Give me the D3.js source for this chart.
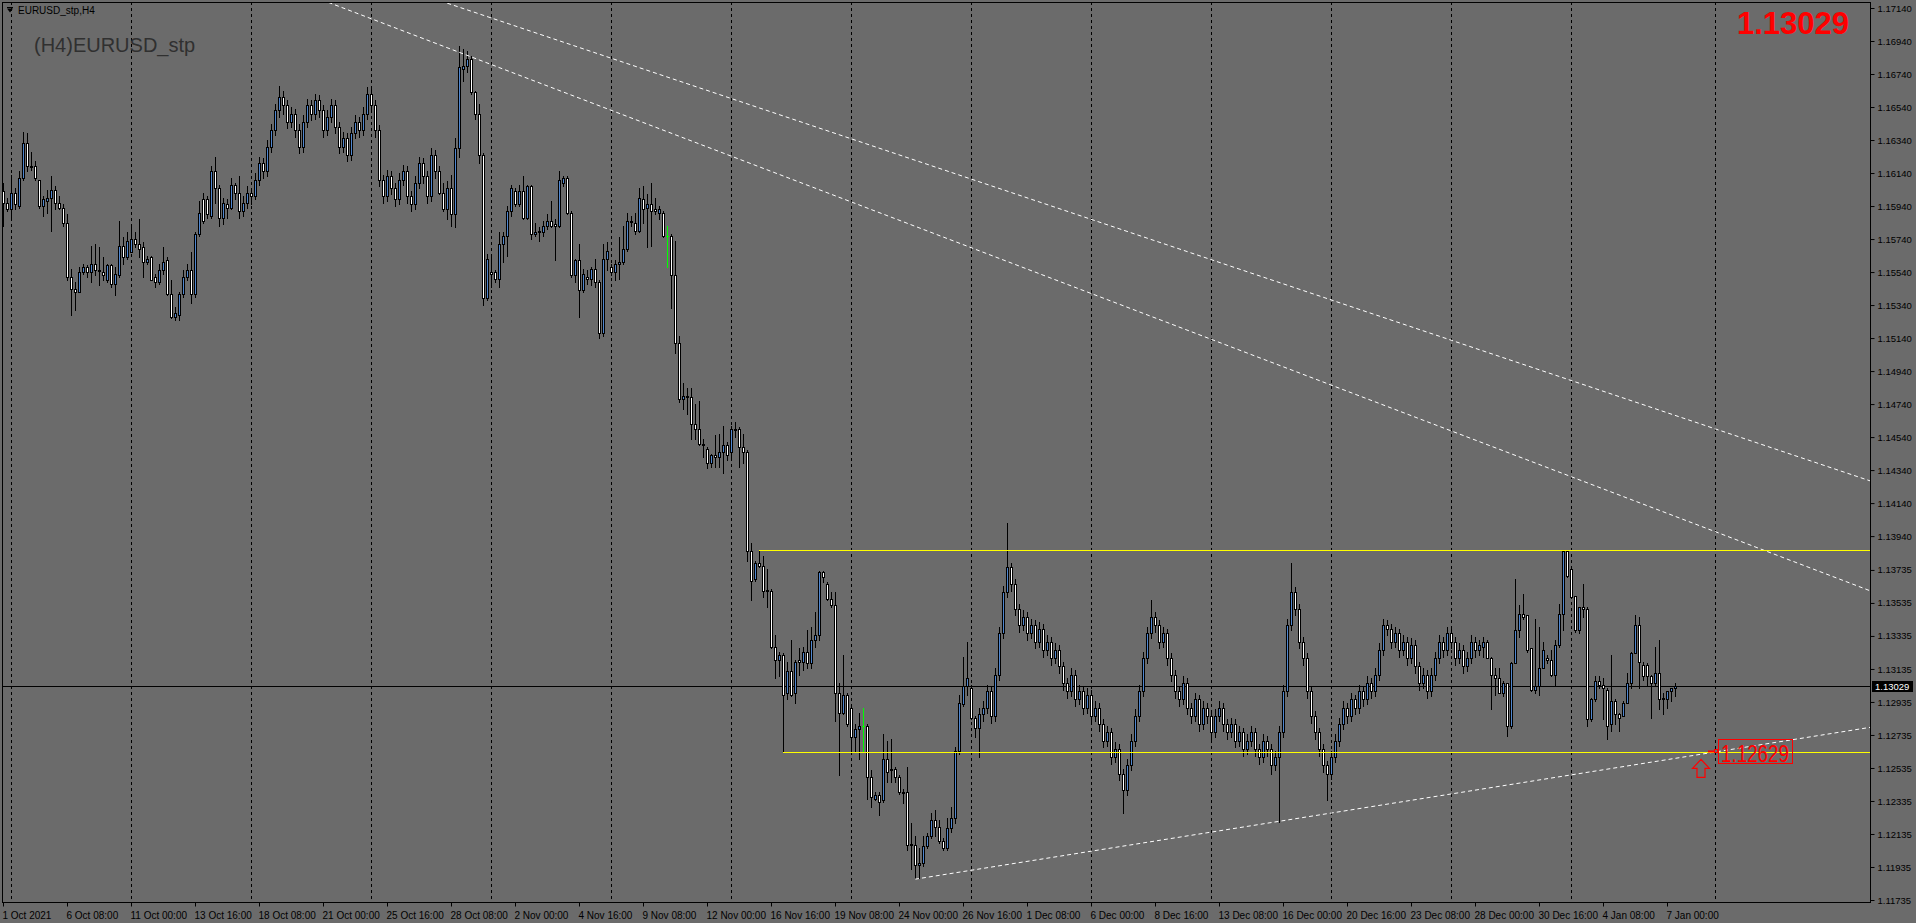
<!DOCTYPE html>
<html><head><meta charset="utf-8">
<script src="https://cdn.jsdelivr.net/npm/d3@7"></script>
<style>html,body{margin:0;padding:0;background:#6b6b6b;overflow:hidden}text{font-family:"Liberation Sans",Arial,sans-serif}</style>
</head><body><svg id="c" width="1916" height="923"></svg>
<script>
// ---------- data ----------
const windowTitle = "EURUSD_stp,H4";
const symbolTitle = "(H4)EURUSD_stp";
const lastPrice = 1.13029;
const priceTicks = [1.17140,1.16940,1.16740,1.16540,1.16340,1.16140,1.15940,1.15740,1.15540,1.15340,1.15140,1.14940,1.14740,1.14540,1.14340,1.14140,1.13940,1.13735,1.13535,1.13335,1.13135,1.12935,1.12735,1.12535,1.12335,1.12135,1.11935,1.11735];
const timeLabelBars = [0,16,32,48,64,80,96,112,128,144,160,176,192,208,224,240,256,272,288,304,320,336,352,368,384,400,416];
const timeLabelTexts = ["1 Oct 2021","6 Oct 08:00","11 Oct 00:00","13 Oct 16:00","18 Oct 08:00","21 Oct 00:00","25 Oct 16:00","28 Oct 08:00","2 Nov 00:00","4 Nov 16:00","9 Nov 08:00","12 Nov 00:00","16 Nov 16:00","19 Nov 08:00","24 Nov 00:00","26 Nov 16:00","1 Dec 08:00","6 Dec 00:00","8 Dec 16:00","13 Dec 08:00","16 Dec 00:00","20 Dec 16:00","23 Dec 08:00","28 Dec 00:00","30 Dec 16:00","4 Jan 08:00","7 Jan 00:00"];
const weekSeparatorBars = [2,32,62,92,122,152,182,212,242,272,302,332,362,392,428];
const trendLineA = [[131, 1.17007], [466.75, 1.14275]];
const trendLineB = [[109.25, 1.16916], [466.75, 1.13609]];
const trendLineC = [[228, 1.11861], [466.75, 1.12781]];
const resistanceLevel = [189, 1.13853];
const supportLevel = [195, 1.12629];
const supportLabelBar = 428.75;
const arrowBar = 424.5;

const barOpen = [
1.1603,1.1596,1.1592,1.1602,1.1594,1.1611,1.1632,1.1618,1.1618,1.1610,
1.1594,1.1597,1.1599,1.1604,1.1596,1.1593,1.1584,1.1551,1.1544,1.1542,
1.1554,1.1557,1.1554,1.1559,1.1555,1.1554,1.1549,1.1558,1.1547,1.1552,
1.1570,1.1563,1.1566,1.1574,1.1571,1.1569,1.1560,1.1563,1.1551,1.1548,
1.1555,1.1561,1.1541,1.1527,1.1528,1.1541,1.1551,1.1555,1.1541,1.1577,
1.1598,1.1598,1.1588,1.1615,1.1605,1.1587,1.1595,1.1593,1.1607,1.1602,
1.1591,1.1596,1.1602,1.1600,1.1610,1.1620,1.1615,1.1630,1.1640,1.1652,
1.1660,1.1655,1.1645,1.1650,1.1640,1.1630,1.1645,1.1655,1.1650,1.1658,
1.1652,1.1640,1.1648,1.1655,1.1642,1.1630,1.1635,1.1625,1.1638,1.1645,
1.1640,1.1650,1.1662,1.1655,1.1640,1.1610,1.1600,1.1612,1.1605,1.1598,
1.1610,1.1615,1.1600,1.1595,1.1608,1.1620,1.1612,1.1600,1.1625,1.1615,
1.1602,1.1592,1.1605,1.1589,1.1629,1.1677,1.1679,1.1683,1.1663,1.1650,
1.1625,1.1538,1.1554,1.1554,1.1550,1.1571,1.1576,1.1591,1.1603,1.1595,
1.1603,1.1587,1.1606,1.1577,1.1579,1.1578,1.1582,1.1585,1.1583,1.1582,
1.1608,1.1611,1.1590,1.1552,1.1561,1.1543,1.1551,1.1550,1.1556,1.1548,
1.1517,1.1562,1.1557,1.1554,1.1559,1.1560,1.1568,1.1585,1.1584,1.1579,
1.1598,1.1593,1.1595,1.1592,1.1590,1.1590,1.1576,1.1576,1.1552,1.1511,
1.1477,1.1479,1.1478,1.1462,1.1459,1.1450,1.1447,1.1438,1.1443,1.1442,
1.1445,1.1449,1.1445,1.1459,1.1459,1.1448,1.1445,1.1385,1.1368,1.1378,
1.1376,1.13615,1.1361,1.1327,1.1319,1.1322,1.1299,1.1312,1.1299,1.1319,
1.1318,1.1324,1.1317,1.1331,1.1334,1.1372,1.1365,1.1356,1.1352,1.1299,
1.1287,1.1298,1.1290,1.1272,1.1277,1.1279,1.1279,1.1248,1.1235,1.1237,
1.1234,1.1259,1.1252,1.1253,1.1248,1.1239,1.1239,1.12075,1.1207,1.1195,
1.1196,1.1206,1.1212,1.1222,1.1218,1.1209,1.1205,1.1217,1.1223,1.1264,
1.1292,1.1303,1.1302,1.1284,1.1278,1.1286,1.1290,1.1300,1.1285,1.1310,
1.1335,1.1360,1.1375,1.1365,1.1350,1.1340,1.1345,1.1335,1.1340,1.1330,
1.1338,1.1325,1.1330,1.1320,1.1325,1.1315,1.1305,1.1300,1.1310,1.1295,
1.1300,1.1290,1.1298,1.1285,1.1290,1.1280,1.1270,1.1275,1.1260,1.1265,
1.1250,1.1240,1.1255,1.1270,1.1285,1.1300,1.1320,1.1335,1.1345,1.1340,
1.1330,1.1335,1.1320,1.1310,1.1300,1.1295,1.1305,1.1290,1.1285,1.1295,
1.1280,1.1290,1.1285,1.1275,1.1285,1.1290,1.1280,1.1275,1.1280,1.1270,
1.1275,1.1265,1.1270,1.1275,1.1265,1.1260,1.1270,1.1265,1.1255,1.1260,
1.1275,1.1300,1.1340,1.1360,1.1350,1.1330,1.1320,1.1300,1.1285,1.1275,
1.1265,1.1255,1.1250,1.1260,1.1270,1.1280,1.1290,1.1285,1.1295,1.1290,
1.1300,1.1295,1.1305,1.1300,1.1310,1.1325,1.1340,1.1338,1.1330,1.1335,
1.1325,1.1330,1.1320,1.1328,1.1315,1.1305,1.1310,1.1300,1.1310,1.1320,
1.1330,1.1325,1.1335,1.1330,1.1320,1.1325,1.1315,1.1320,1.1330,1.1325,
1.1327,1.1330,1.1320,1.1310,1.1308,1.1299,1.1305,1.1279,1.1317,1.1337,
1.1347,1.1346,1.1326,1.1301,1.1303,1.1314,1.1320,1.1319,1.1310,1.1328,
1.1347,1.1385,1.1374,1.1358,1.1337,1.1351,1.1350,1.1283,1.1295,1.1306,
1.1304,1.1301,1.1280,1.1294,1.1286,1.1285,1.1293,1.1305,1.1323,1.1340,
1.1316,1.1316,1.1309,1.1305,1.1311,1.1296,1.1295,1.1300,1.1302];
const barHigh = [
1.1608,1.1599,1.1613,1.1605,1.1615,1.1639,1.1638,1.1627,1.1621,1.1610,
1.1600,1.1604,1.1612,1.1606,1.1600,1.1595,1.1589,1.1556,1.1548,1.1557,
1.1559,1.1558,1.1570,1.1571,1.1569,1.1563,1.1559,1.1559,1.1557,1.1585,
1.1575,1.1578,1.1583,1.1578,1.1586,1.1572,1.1564,1.1564,1.1553,1.1559,
1.1569,1.1563,1.1549,1.1533,1.1542,1.1555,1.1559,1.1566,1.1578,1.1597,
1.1602,1.1600,1.1618,1.1624,1.1607,1.1599,1.1598,1.1611,1.1608,1.1612,
1.1600,1.1606,1.1605,1.1614,1.1624,1.1623,1.1634,1.1644,1.1656,1.1667,
1.1664,1.1658,1.1654,1.1653,1.1644,1.1649,1.1659,1.1658,1.1662,1.1661,
1.1655,1.1652,1.1659,1.1658,1.1645,1.1639,1.1638,1.1642,1.1649,1.1648,
1.1654,1.1666,1.1665,1.1658,1.1643,1.1613,1.1616,1.1615,1.1608,1.1614,
1.1619,1.1618,1.1603,1.1612,1.1624,1.1623,1.1615,1.1629,1.1628,1.1618,
1.1608,1.1609,1.1613,1.1635,1.1691,1.1689,1.1688,1.1685,1.1664,1.1656,
1.1626,1.1565,1.1563,1.1555,1.1578,1.1578,1.1594,1.1607,1.1605,1.1607,
1.1612,1.1607,1.1607,1.1584,1.1581,1.1585,1.1589,1.1597,1.1586,1.1615,
1.1612,1.1612,1.1591,1.1562,1.1571,1.1556,1.1555,1.1557,1.1562,1.1549,
1.1571,1.1572,1.1559,1.1561,1.1575,1.1582,1.1590,1.1588,1.1590,1.1605,
1.1606,1.1601,1.1608,1.1599,1.1594,1.1591,1.1582,1.1577,1.1573,1.1515,
1.1487,1.1484,1.1484,1.1474,1.1476,1.1453,1.1448,1.1444,1.1455,1.1456,
1.1461,1.1451,1.1461,1.1463,1.1460,1.1456,1.1446,1.1390,1.1379,1.13853,
1.1382,1.1374,1.1362,1.1334,1.1324,1.1323,1.1318,1.1331,1.1319,1.1326,
1.1327,1.1337,1.1339,1.1348,1.1373,1.1373,1.1366,1.1360,1.1360,1.1305,
1.1322,1.1299,1.1291,1.1280,1.1287,1.1290,1.1280,1.1252,1.1239,1.1239,
1.1274,1.1270,1.1271,1.1254,1.1249,1.1241,1.1254,1.1220,1.1212,1.1205,
1.1212,1.1214,1.1226,1.1228,1.1222,1.1211,1.1223,1.1230,1.1266,1.1298,
1.1321,1.1330,1.1304,1.1285,1.1290,1.1294,1.1304,1.1303,1.1314,1.1339,
1.1364,1.1402,1.1378,1.1368,1.1353,1.1349,1.1348,1.1344,1.1343,1.1342,
1.1341,1.1334,1.1333,1.1329,1.1328,1.1318,1.1308,1.1314,1.1313,1.1304,
1.1303,1.1302,1.1301,1.1294,1.1293,1.1283,1.1279,1.1278,1.1269,1.1268,
1.1253,1.1259,1.1274,1.1289,1.1304,1.1324,1.1339,1.1355,1.1348,1.1343,
1.1339,1.1338,1.1323,1.1313,1.1303,1.1309,1.1308,1.1293,1.1299,1.1298,
1.1294,1.1293,1.1288,1.1289,1.1294,1.1293,1.1283,1.1284,1.1283,1.1279,
1.1278,1.1274,1.1279,1.1278,1.1268,1.1274,1.1273,1.1268,1.1264,1.1279,
1.1304,1.1344,1.1378,1.1363,1.1353,1.1333,1.1323,1.1303,1.1288,1.1278,
1.1268,1.1258,1.1264,1.1274,1.1284,1.1294,1.1293,1.1299,1.1298,1.1304,
1.1303,1.1309,1.1308,1.1314,1.1329,1.1344,1.1343,1.1341,1.1339,1.1338,
1.1334,1.1333,1.1332,1.1331,1.1318,1.1314,1.1313,1.1314,1.1324,1.1334,
1.1333,1.1339,1.1338,1.1333,1.1329,1.1328,1.1324,1.1334,1.1333,1.1331,
1.1333,1.1331,1.1321,1.1314,1.1314,1.1306,1.1305,1.1318,1.1368,1.1352,
1.1359,1.1346,1.1326,1.1344,1.1339,1.1330,1.1322,1.1325,1.1331,1.1353,
1.1385,1.1385,1.1375,1.1358,1.1351,1.1365,1.1351,1.1296,1.1309,1.1309,
1.1308,1.1302,1.1322,1.1295,1.1287,1.1294,1.1311,1.1324,1.1346,1.1345,
1.1318,1.1317,1.1310,1.1327,1.1331,1.1299,1.1300,1.1302,1.1305];
const barLow = [
1.1582,1.1591,1.1587,1.1592,1.1593,1.1610,1.1615,1.1616,1.1610,1.1593,
1.1588,1.1590,1.1579,1.1592,1.1592,1.1582,1.1549,1.1528,1.1531,1.1542,
1.1553,1.1551,1.1548,1.1552,1.1546,1.1549,1.1548,1.1545,1.1540,1.1551,
1.1559,1.1562,1.1566,1.1569,1.1563,1.1551,1.1559,1.1549,1.1545,1.1547,
1.1553,1.1540,1.1526,1.1525,1.1525,1.1539,1.1549,1.1535,1.1539,1.1576,
1.1584,1.1587,1.1587,1.1596,1.1582,1.1583,1.1587,1.1592,1.1598,1.1587,
1.1588,1.1593,1.1595,1.1598,1.1607,1.1611,1.1612,1.1627,1.1637,1.1648,
1.1650,1.1641,1.1642,1.1636,1.1626,1.1627,1.1642,1.1646,1.1647,1.1648,
1.1636,1.1637,1.1645,1.1638,1.1626,1.1627,1.1621,1.1622,1.1635,1.1636,
1.1637,1.1647,1.1651,1.1636,1.1606,1.1596,1.1597,1.1601,1.1594,1.1595,
1.1607,1.1596,1.1591,1.1592,1.1605,1.1608,1.1596,1.1597,1.1611,1.1601,
1.1591,1.1586,1.1582,1.1581,1.1624,1.1670,1.1675,1.1662,1.1647,1.1620,
1.1534,1.1537,1.1545,1.1548,1.1545,1.1560,1.1564,1.1588,1.1594,1.1594,
1.1586,1.1586,1.1574,1.1576,1.1573,1.1576,1.1580,1.1581,1.1561,1.1581,
1.1606,1.1589,1.1551,1.1548,1.1527,1.1542,1.1547,1.1546,1.1545,1.1514,
1.1515,1.1555,1.1552,1.1549,1.1550,1.1559,1.1567,1.1582,1.1577,1.1578,
1.1584,1.1569,1.1570,1.1589,1.1586,1.1575,1.1557,1.1532,1.1505,1.1475,
1.1471,1.1468,1.1453,1.1453,1.1449,1.1442,1.1435,1.1436,1.1436,1.1436,
1.1432,1.1440,1.1440,1.1454,1.1436,1.1438,1.1379,1.1355,1.1367,1.1375,
1.1357,1.1351,1.1326,1.1308,1.1309,1.12629,1.1295,1.1297,1.1293,1.1310,
1.1313,1.1314,1.1314,1.1327,1.1331,1.1366,1.1355,1.1351,1.1282,1.1249,
1.1286,1.1279,1.1264,1.1263,1.1259,1.1264,1.1235,1.1230,1.1234,1.1225,
1.1233,1.1245,1.1245,1.1245,1.1238,1.1232,1.1204,1.1192,1.11861,1.1187,
1.1194,1.1205,1.1211,1.1212,1.1208,1.1204,1.1204,1.1215,1.1220,1.1262,
1.1291,1.1298,1.1283,1.1272,1.1260,1.1282,1.1287,1.1281,1.1282,1.1307,
1.1332,1.1357,1.1361,1.1346,1.1336,1.1337,1.1331,1.1332,1.1326,1.1327,
1.1321,1.1322,1.1316,1.1317,1.1311,1.1301,1.1296,1.1297,1.1291,1.1292,
1.1286,1.1287,1.1281,1.1282,1.1276,1.1266,1.1267,1.1256,1.1257,1.1246,
1.1226,1.1237,1.1252,1.1267,1.1282,1.1297,1.1317,1.1332,1.1336,1.1326,
1.1327,1.1316,1.1306,1.1296,1.1291,1.1292,1.1286,1.1281,1.1282,1.1276,
1.1277,1.1281,1.1271,1.1272,1.1282,1.1276,1.1271,1.1272,1.1266,1.1267,
1.1261,1.1262,1.1267,1.1261,1.1256,1.1257,1.1261,1.1250,1.1252,1.1221,
1.1272,1.1297,1.1337,1.1346,1.1326,1.1316,1.1296,1.1281,1.1271,1.1261,
1.1251,1.1234,1.1247,1.1257,1.1267,1.1277,1.1281,1.1282,1.1286,1.1287,
1.1291,1.1292,1.1296,1.1297,1.1307,1.1322,1.1334,1.1326,1.1327,1.1321,
1.1322,1.1316,1.1317,1.1311,1.1301,1.1302,1.1296,1.1297,1.1307,1.1317,
1.1321,1.1322,1.1326,1.1316,1.1317,1.1311,1.1312,1.1317,1.1321,1.1322,
1.1321,1.1320,1.1289,1.1298,1.1299,1.1297,1.1273,1.1278,1.1317,1.1333,
1.1344,1.1324,1.1300,1.1299,1.1298,1.1314,1.1317,1.1309,1.1303,1.1327,
1.1337,1.1369,1.1357,1.1336,1.1335,1.1345,1.1279,1.1282,1.1294,1.1302,
1.1283,1.1271,1.1276,1.1280,1.1276,1.1285,1.1293,1.1302,1.1323,1.1302,
1.1307,1.1304,1.1284,1.1304,1.1289,1.1286,1.1290,1.1294,1.1297];
const barClose = [
1.1596,1.1592,1.1602,1.1595,1.1611,1.1632,1.1618,1.16175,1.1611,1.1594,
1.1598,1.1599,1.1604,1.1596,1.1593,1.1584,1.1551,1.1544,1.1542,1.1554,
1.1557,1.1554,1.1559,1.1555,1.15545,1.1552,1.1558,1.1547,1.1553,1.1570,
1.1563,1.1573,1.1574,1.1571,1.1568,1.1560,1.1562,1.1549,1.1548,1.1555,
1.1560,1.1541,1.1527,1.1529,1.1541,1.1551,1.1555,1.1541,1.1577,1.1590,
1.1585,1.1589,1.1615,1.1605,1.1587,1.1596,1.1593,1.1607,1.1602,1.1591,
1.1596,1.1602,1.1600,1.1610,1.1620,1.1615,1.1630,1.1640,1.1652,1.1660,
1.1655,1.1645,1.1650,1.1640,1.1630,1.1645,1.1655,1.1650,1.1658,1.1652,
1.1640,1.1648,1.1655,1.1642,1.1630,1.1635,1.1625,1.1638,1.1645,1.1640,
1.1650,1.1662,1.1655,1.1640,1.1610,1.1600,1.1612,1.1605,1.1598,1.1610,
1.1615,1.1600,1.1595,1.1608,1.1620,1.1612,1.1600,1.1625,1.1615,1.1602,
1.1592,1.1605,1.1589,1.1629,1.1678,1.1679,1.1683,1.1663,1.1650,1.1625,
1.1538,1.1562,1.1553,1.1550,1.1571,1.1576,1.1591,1.1605,1.1595,1.1603,
1.1587,1.1606,1.1577,1.1578,1.1578,1.1582,1.1585,1.1582,1.1582,1.1610,
1.1611,1.1590,1.1552,1.1561,1.1543,1.1553,1.1550,1.1556,1.1548,1.1517,
1.1562,1.1567,1.1554,1.1559,1.1560,1.1568,1.1585,1.15845,1.1579,1.1599,
1.1592,1.1595,1.1591,1.1591,1.1592,1.1576,1.1576,1.1552,1.1511,1.1477,
1.1479,1.1478,1.1462,1.1459,1.1450,1.1449,1.1438,1.1443,1.1442,1.1445,
1.1449,1.1443,1.1459,1.14585,1.1448,1.1445,1.1385,1.1367,1.1378,1.1376,
1.1361,1.1361,1.1327,1.1319,1.1322,1.1298,1.1312,1.1298,1.1318,1.1318,
1.1324,1.1317,1.1331,1.1334,1.1372,1.1369,1.1356,1.1352,1.1299,1.1287,
1.1298,1.1280,1.1272,1.1277,1.1279,1.1279,1.1248,1.1236,1.1237,1.1233,
1.1259,1.1251,1.1253,1.1248,1.1239,1.12385,1.1207,1.1207,1.1195,1.1196,
1.1206,1.1212,1.1222,1.1218,1.1209,1.1205,1.1217,1.1223,1.1264,1.1293,
1.1303,1.1308,1.1284,1.1278,1.1286,1.1290,1.1300,1.1285,1.1310,1.1335,
1.1360,1.1375,1.1365,1.1350,1.1340,1.1345,1.1335,1.1340,1.1330,1.1338,
1.1325,1.1330,1.1320,1.1325,1.1315,1.1305,1.1300,1.1310,1.1295,1.1300,
1.1290,1.1298,1.1285,1.1290,1.1280,1.1270,1.1275,1.1260,1.1265,1.1250,
1.1240,1.1255,1.1270,1.1285,1.1300,1.1320,1.1335,1.1345,1.1340,1.1330,
1.1335,1.1320,1.1310,1.1300,1.1295,1.1305,1.1290,1.1285,1.1295,1.1280,
1.1290,1.1285,1.1275,1.1285,1.1290,1.1280,1.1275,1.1280,1.1270,1.1275,
1.1265,1.1270,1.1275,1.1265,1.1260,1.1270,1.1265,1.1255,1.1260,1.1275,
1.1300,1.1340,1.1360,1.1350,1.1330,1.1320,1.1300,1.1285,1.1275,1.1265,
1.1255,1.1250,1.1260,1.1270,1.1280,1.1290,1.1285,1.1295,1.1290,1.1300,
1.1295,1.1305,1.1300,1.1310,1.1325,1.1340,1.1338,1.1330,1.1335,1.1325,
1.1330,1.1320,1.1328,1.1315,1.1305,1.1310,1.1300,1.1310,1.1320,1.1330,
1.1325,1.1335,1.1330,1.1320,1.1325,1.1315,1.1320,1.1330,1.1325,1.1328,
1.1330,1.1320,1.1310,1.1308,1.1299,1.1305,1.1279,1.1317,1.1337,1.1347,
1.1345,1.1325,1.1301,1.1303,1.1314,1.1325,1.1319,1.1310,1.1328,1.1347,
1.1385,1.1370,1.1357,1.1337,1.1351,1.1350,1.1283,1.1295,1.1306,1.1304,
1.1302,1.1279,1.1294,1.1286,1.1284,1.1293,1.1305,1.1323,1.1340,1.1318,
1.1309,1.1309,1.1305,1.1311,1.1295,1.1295,1.1300,1.1302,1.1303];

// ---------- drawing ----------
const W = 1916, H = 923;
const plotL = 2, plotT = 2, plotR = 1870, plotB = 902;
const BG = "#6b6b6b", BULL = "#4f86cf", BEAR = "#ffffff", DOJI = "#00ff00";
const svg = d3.select("#c");
svg.append("rect").attr("width", W).attr("height", H).attr("fill", BG);

const x = d3.scaleLinear().domain([0, 1]).range([3, 7]);          // 4 px per H4 bar
const y = d3.scaleLinear().domain([1.11735, 1.17140]).range([900, 8]);
const rightBar = x.invert(plotR);
const crisp = v => Math.round(v) + 0.5;

svg.append("clipPath").attr("id", "plotclip").append("rect")
  .attr("x", plotL + 1).attr("y", plotT + 1).attr("width", plotR - plotL - 1).attr("height", plotB - plotT - 1);

const g = svg.append("g").attr("clip-path", "url(#plotclip)");

// week separators (grid)
g.selectAll("line.sep").data(weekSeparatorBars).join("line")
  .attr("x1", d => crisp(x(d))).attr("x2", d => crisp(x(d)))
  .attr("y1", plotT).attr("y2", plotB)
  .attr("stroke", "#000").attr("stroke-width", 1).attr("stroke-dasharray", "3,3");

// bid line
g.append("line").attr("x1", plotL).attr("x2", plotR)
  .attr("y1", crisp(y(lastPrice))).attr("y2", crisp(y(lastPrice)))
  .attr("stroke", "#000").attr("stroke-width", 1);

// candles
const n = Math.min(barOpen.length, barHigh.length, barLow.length, barClose.length);
const bars = d3.range(n).map(i => ({i, o: barOpen[i], h: barHigh[i], l: barLow[i], c: barClose[i]}));
const cg = g.append("g");
bars.forEach(b => {
  const cx = Math.round(x(b.i));
  const isDoji = b.o === b.c;
  const col = isDoji ? DOJI : "#000";
  cg.append("line").attr("x1", cx + 0.5).attr("x2", cx + 0.5)
    .attr("y1", Math.round(y(b.h))).attr("y2", Math.round(y(b.l)) + 1)
    .attr("stroke", col).attr("stroke-width", 1);
  if (isDoji) {
    cg.append("line").attr("x1", cx - 1).attr("x2", cx + 2)
      .attr("y1", crisp(y(b.o))).attr("y2", crisp(y(b.o))).attr("stroke", DOJI);
    return;
  }
  const top = Math.round(y(Math.max(b.o, b.c)));
  const bot = Math.round(y(Math.min(b.o, b.c)));
  if (bot - top < 1) {
    cg.append("line").attr("x1", cx - 1).attr("x2", cx + 2)
      .attr("y1", top + 0.5).attr("y2", top + 0.5).attr("stroke", "#000");
  } else {
    cg.append("rect").attr("x", cx - 0.5).attr("y", top + 0.5)
      .attr("width", 2).attr("height", bot - top)
      .attr("fill", b.c > b.o ? BULL : BEAR).attr("stroke", "#000").attr("stroke-width", 1);
  }
});

// trend lines
function lineAt(seg, bar) {
  const [[b1, p1], [b2, p2]] = seg;
  return p1 + (p2 - p1) * (bar - b1) / (b2 - b1);
}
[[trendLineA, -20], [trendLineB, -20], [trendLineC, trendLineC[0][0]]].forEach(([seg, startBar]) => {
  g.append("line")
    .attr("x1", x(startBar)).attr("y1", y(lineAt(seg, startBar)))
    .attr("x2", x(rightBar)).attr("y2", y(lineAt(seg, rightBar)))
    .attr("stroke", "#fff").attr("stroke-width", 1).attr("stroke-dasharray", "4,3");
});

// horizontal levels
[resistanceLevel, supportLevel].forEach(([b, p]) => {
  g.append("line").attr("x1", x(b)).attr("x2", plotR)
    .attr("y1", crisp(y(p))).attr("y2", crisp(y(p)))
    .attr("stroke", "#ffff00").attr("stroke-width", 1);
});

// support price label + arrow
const sy = y(supportLevel[1]);
const lx = Math.round(x(supportLabelBar));
g.append("line").attr("x1", lx - 10).attr("x2", lx).attr("y1", crisp(sy) - 1).attr("y2", crisp(sy) - 1)
  .attr("stroke", "#ff0000").attr("stroke-width", 2);
g.append("rect").attr("x", lx - 3.5).attr("y", crisp(sy) - 3).attr("width", 3).attr("height", 3)
  .attr("fill", BG).attr("stroke", "#ff0000");
g.append("rect").attr("x", lx + 0.5).attr("y", Math.round(sy) - 12.5).attr("width", 74).attr("height", 24)
  .attr("fill", "none").attr("stroke", "#ff0000").attr("stroke-width", 1);
g.append("text").attr("x", lx + 3).attr("y", sy + 9.5)
  .attr("font-size", 23).attr("fill", "#ff0000")
  .attr("textLength", 68).attr("lengthAdjust", "spacingAndGlyphs")
  .text(d3.format(".5f")(supportLevel[1]));
const ax = x(arrowBar), ay = sy + 7;
g.append("path")
  .attr("d", `M${ax},${ay} L${ax + 8.5},${ay + 9} L${ax + 4},${ay + 9} L${ax + 4},${ay + 18} L${ax - 4},${ay + 18} L${ax - 4},${ay + 9} L${ax - 8.5},${ay + 9} Z`)
  .attr("fill", "none").attr("stroke", "#ff0000").attr("stroke-width", 1.2);

// frame
svg.append("rect").attr("x", plotL + 0.5).attr("y", plotT + 0.5)
  .attr("width", plotR - plotL).attr("height", plotB - plotT)
  .attr("fill", "none").attr("stroke", "#000").attr("stroke-width", 1);

// right price axis
const ya = svg.append("g").attr("transform", `translate(${plotR + 0.5},0)`)
  .call(d3.axisRight(y).tickValues(priceTicks).tickSize(4).tickPadding(3).tickFormat(d3.format(".5f")));
ya.select(".domain").remove();
ya.selectAll("line").attr("stroke", "#000");
ya.selectAll("text").attr("font-size", 9.5).attr("fill", "#000").attr("font-family", "Liberation Sans, Arial, sans-serif");

// current price box
const cy = y(lastPrice);
svg.append("rect").attr("x", plotR + 2).attr("y", Math.round(cy) - 5).attr("width", 41).attr("height", 11).attr("fill", "#000");
svg.append("text").attr("x", plotR + 5).attr("y", cy + 3.5).attr("font-size", 9.5).attr("fill", "#fff")
  .text(d3.format(".5f")(lastPrice));

// bottom time axis
const xa = svg.append("g").attr("transform", `translate(0,${plotB + 0.5})`)
  .call(d3.axisBottom(x).tickValues(timeLabelBars).tickSize(4).tickFormat((d, i) => timeLabelTexts[i]));
xa.select(".domain").remove();
xa.selectAll("line").attr("stroke", "#000");
xa.selectAll("text").attr("text-anchor", "start").attr("x", -1).attr("dy", "0.9em")
  .attr("font-size", 10).attr("fill", "#000").attr("font-family", "Liberation Sans, Arial, sans-serif");

// titles
svg.append("path").attr("d", "M7,8.5 L13,8.5 L10,12.5 Z").attr("fill", "#000");
svg.append("line").attr("x1", 7).attr("x2", 13).attr("y1", 7.5).attr("y2", 7.5).attr("stroke", "#000");
svg.append("text").attr("x", 18).attr("y", 14).attr("font-size", 10).attr("fill", "#000").text(windowTitle);
svg.append("text").attr("x", 34).attr("y", 52).attr("font-size", 20).attr("fill", "#303030").text(symbolTitle);
svg.append("text").attr("x", 1849).attr("y", 34).attr("text-anchor", "end")
  .attr("font-size", 31).attr("font-weight", "bold").attr("fill", "#ff0000")
  .text(d3.format(".5f")(lastPrice));
</script></body></html>
